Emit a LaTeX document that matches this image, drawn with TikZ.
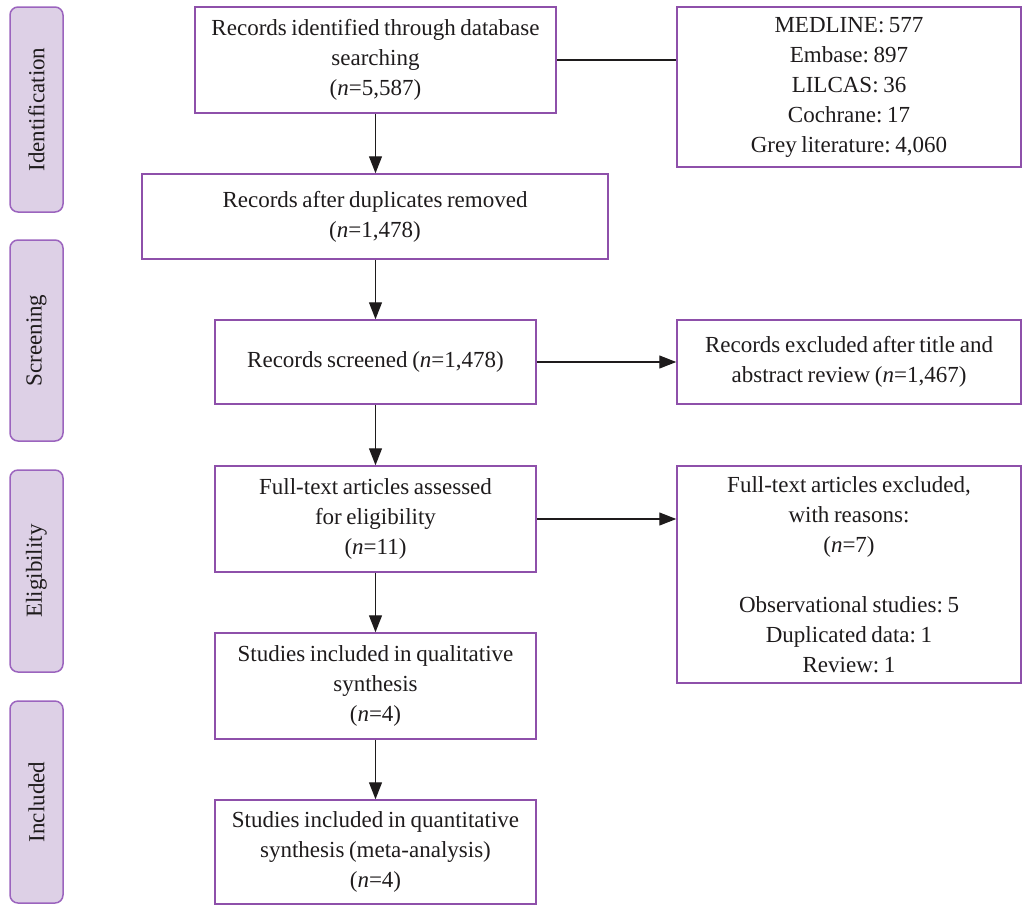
\documentclass[tikz,border=0pt]{standalone}
\usepackage{fontspec}
\setmainfont[WordSpace=0.8]{Liberation Serif}
\usetikzlibrary{arrows.meta}
\definecolor{boxline}{RGB}{142,80,170}
\definecolor{sidefill}{RGB}{221,208,230}
\definecolor{sideline}{RGB}{155,100,190}
\definecolor{ink}{RGB}{30,27,28}
\frenchspacing
\begin{document}
\begin{tikzpicture}[x=1pt,y=-1pt,
  box/.style={draw=boxline, line width=1.5pt, inner sep=0pt, align=center, text=ink,
    font=\fontsize{23}{30}\selectfont},
  side/.style={draw=sideline, fill=sidefill, line width=1.5pt, rounded corners=8pt, rotate=90,
    inner sep=0pt, minimum height=53pt, text=ink, font=\fontsize{23}{30}\selectfont},
  arr/.style={-{Triangle[length=17pt,width=13pt]}, line width=1.3pt, draw=ink},
  link/.style={line width=1.3pt, draw=ink}]
\useasboundingbox (0,0) rectangle (1024,906);

% side labels
\node[side, minimum width=205pt] (s1) at (36.5,109.5) {Identification};
\node[side, minimum width=201pt] (s2) at (36.5,340.5) {Screening};
\node[side, minimum width=202pt] (s3) at (36.5,571) {Eligibility};
\node[side, minimum width=202pt] (s4) at (36.5,802) {Included};

% main column
\node[box, minimum width=361pt, minimum height=106pt] (A) at (375.5,60)
  {Records identified through database\\searching\\(\textit{n}=5,587)};
\node[box, minimum width=466pt, minimum height=85pt] (B) at (375,216.5)
  {Records after duplicates removed\\(\textit{n}=1,478)};
\node[box, minimum width=321pt, minimum height=84pt] (C) at (375.5,362)
  {Records screened (\textit{n}=1,478)};
\node[box, minimum width=321pt, minimum height=106pt] (E) at (375.5,519)
  {Full-text articles assessed\\for eligibility\\(\textit{n}=11)};
\node[box, minimum width=321pt, minimum height=106pt] (G) at (375.5,686)
  {Studies included in qualitative\\synthesis\\(\textit{n}=4)};
\node[box, minimum width=321pt, minimum height=104pt] (H) at (375.5,852)
  {Studies included in quantitative\\synthesis (meta-analysis)\\(\textit{n}=4)};

% right column
\node[box, minimum width=344pt, minimum height=160pt] (M) at (849,87)
  {MEDLINE: 577\\Embase: 897\\LILCAS: 36\\Cochrane: 17\\Grey literature: 4,060};
\node[box, minimum width=344pt, minimum height=84pt] (D) at (849,362)
  {Records excluded after title and\\abstract review (\textit{n}=1,467)};
\node[box, minimum width=344pt, minimum height=217pt] (F) at (849,574.5)
  {Full-text articles excluded,\\with reasons:\\(\textit{n}=7)\\[30pt]Observational studies: 5\\Duplicated data: 1\\Review: 1};

% connectors
\draw[link] (A.east) -- (A.east -| M.west);
\draw[arr] (A.south) -- (A.south |- B.north);
\draw[arr] (A.south |- B.south) -- (C.north);
\draw[arr] (C.south) -- (E.north);
\draw[arr] (E.south) -- (G.north);
\draw[arr] (G.south) -- (H.north);
\draw[arr] (C.east) -- (D.west);
\draw[arr] (E.east) -- (E.east -| F.west);
\end{tikzpicture}
\end{document}
